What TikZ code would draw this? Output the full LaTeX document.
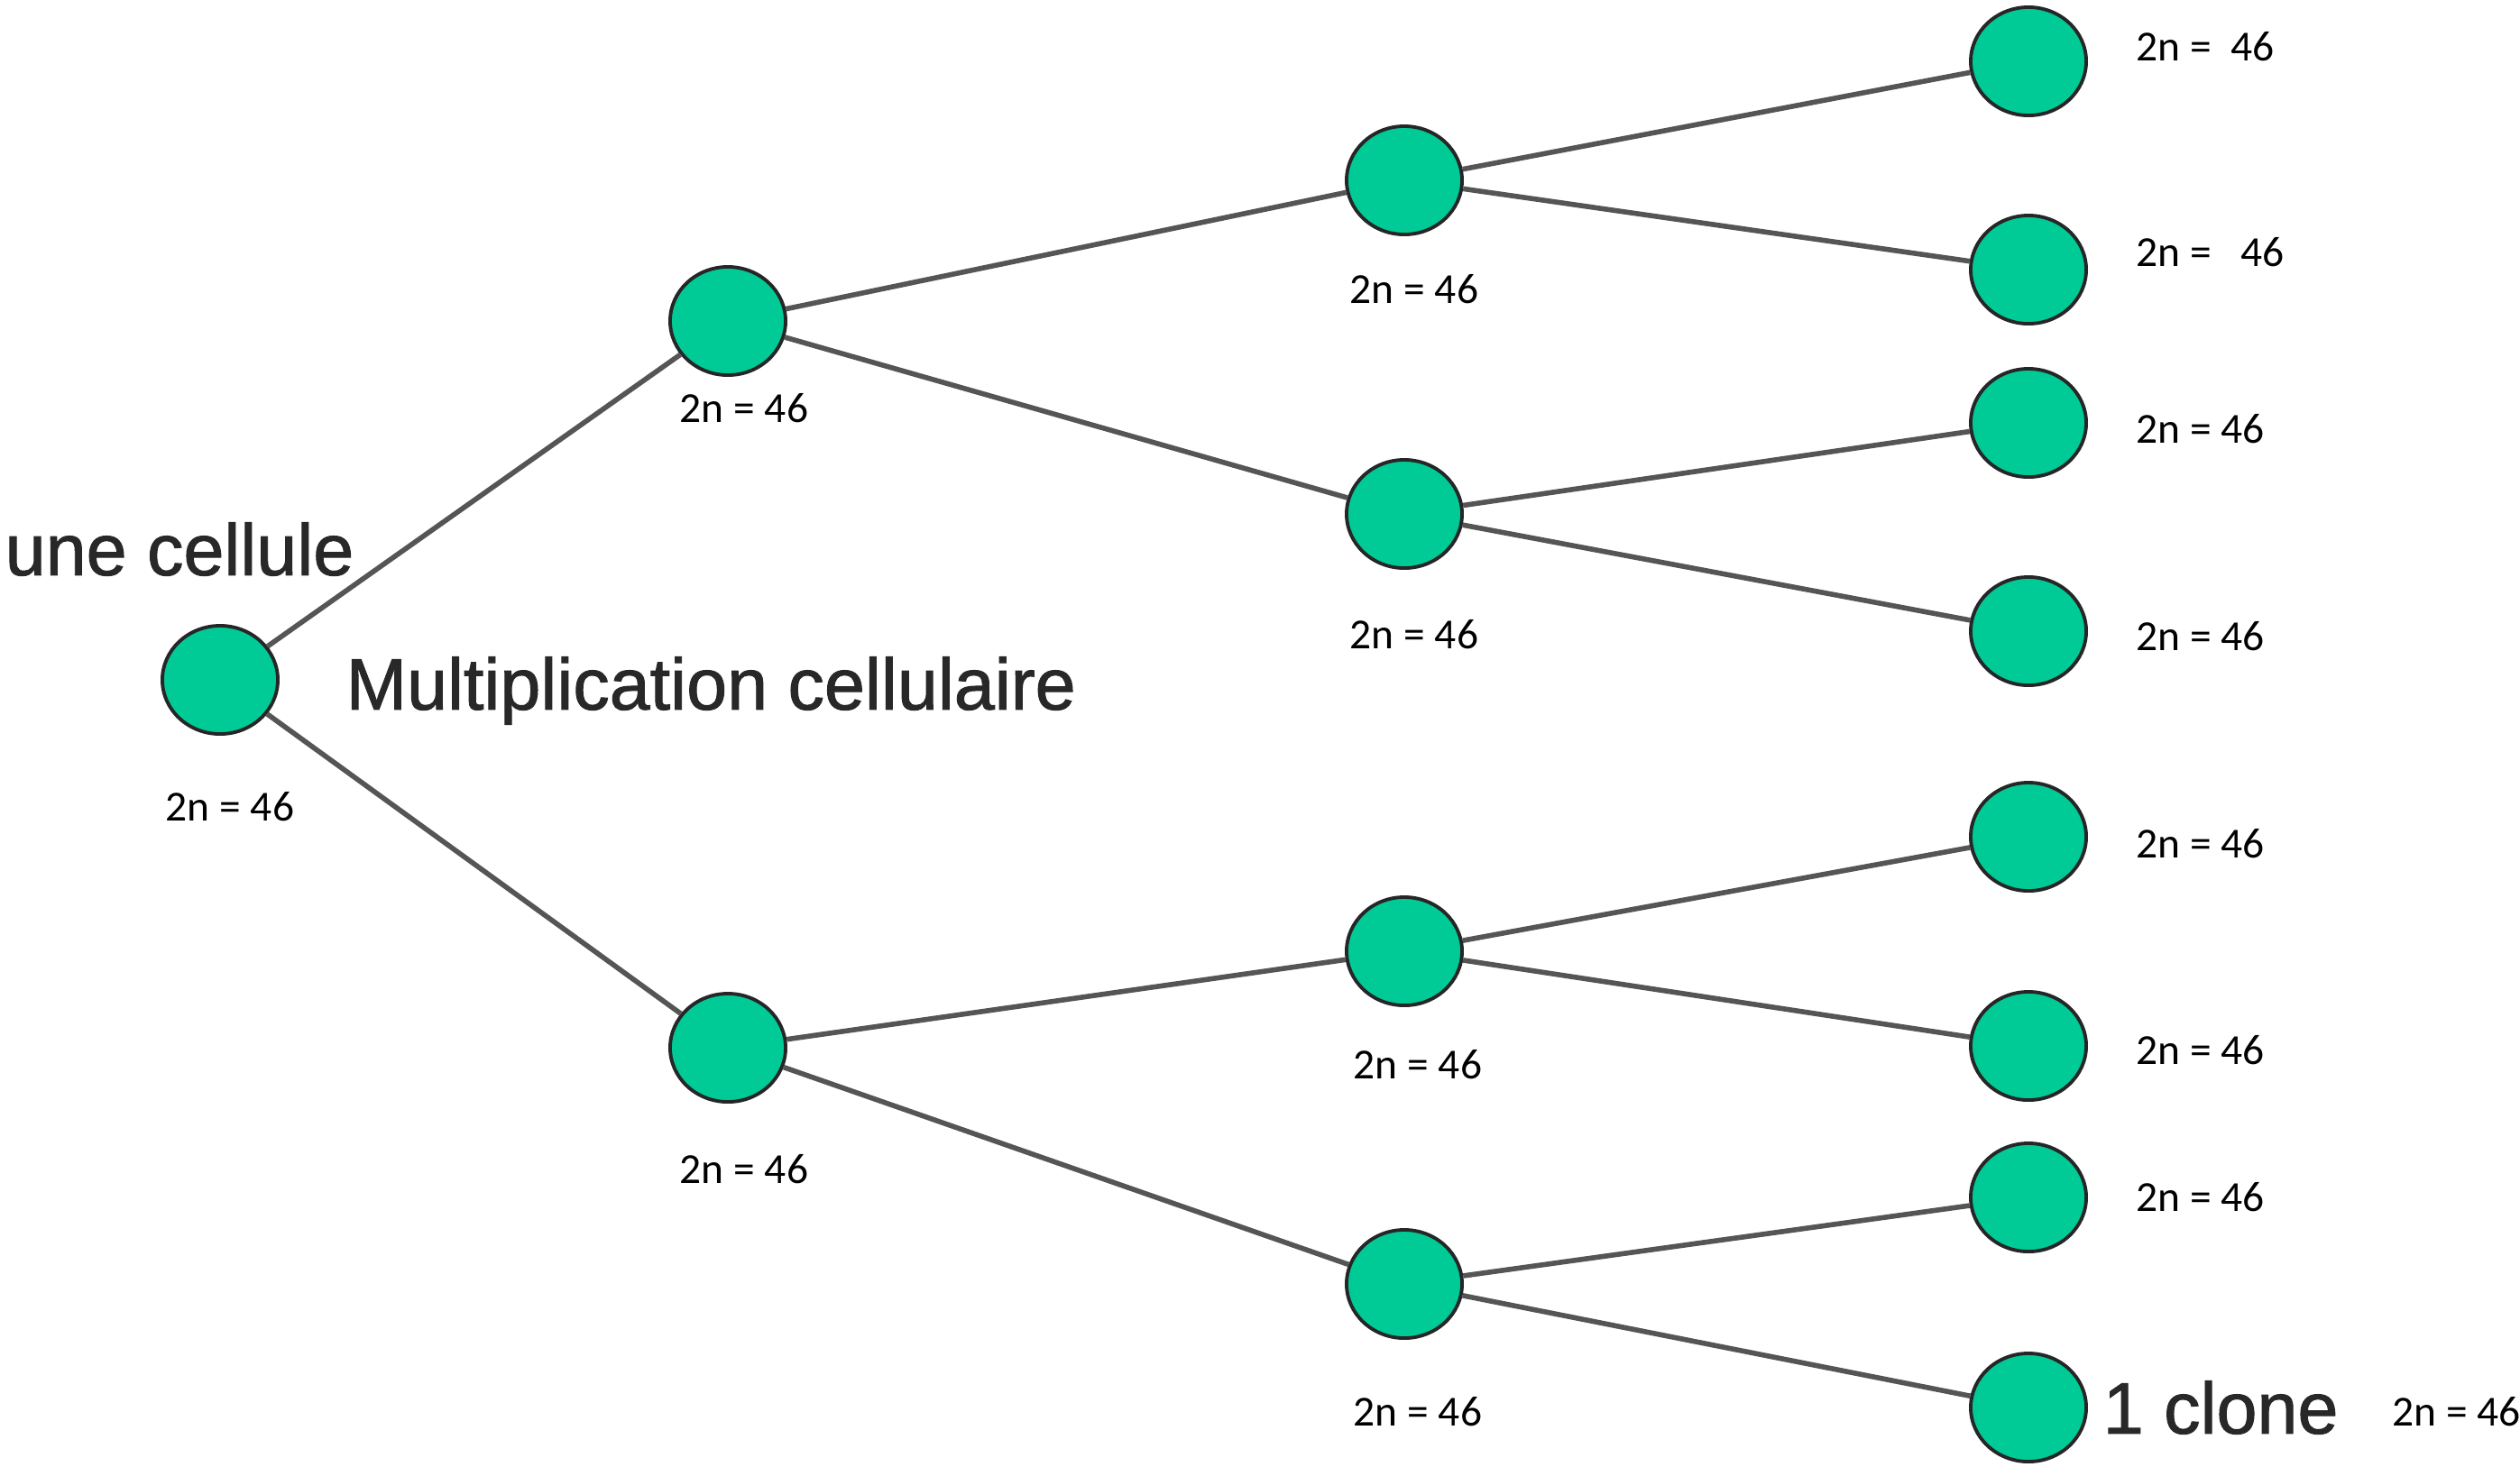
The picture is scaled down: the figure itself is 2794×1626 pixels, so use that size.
\documentclass[tikz,border=0pt]{standalone}
\usepackage{fontspec}
\usetikzlibrary{shapes.geometric}
\setmainfont{Carlito}
\newfontfamily\arialf[FakeBold=1.2]{Liberation Sans}
\definecolor{cellgreen}{RGB}{0,202,150}
\definecolor{linegray}{RGB}{85,85,85}
\definecolor{bigtext}{RGB}{40,40,40}
\begin{document}
\begin{tikzpicture}[x=0.01cm,y=-0.01cm,
  cell/.style={ellipse,draw=black!85,line width=1.1pt,fill=cellgreen,minimum width=1.28cm,minimum height=1.2cm,inner sep=0pt},
  link/.style={draw=linegray,line width=1.6pt},
  chrom/.style={font=\fontsize{13.5}{16}\selectfont,inner sep=0pt,text=black},
  big/.style={font=\arialf\fontsize{23}{26}\selectfont,inner sep=0pt,text=bigtext,anchor=west}]
\useasboundingbox (0,0) rectangle (2794,1626);
% nodes
\node[cell] (r) at (244,754) {};
\node[cell] (a) at (807,356) {};
\node[cell] (b) at (807,1162) {};
\node[cell] (a1) at (1557,200) {};
\node[cell] (a2) at (1557,570) {};
\node[cell] (b1) at (1557,1055) {};
\node[cell] (b2) at (1557,1424) {};
\node[cell] (c1) at (2249,68) {};
\node[cell] (c2) at (2249,299) {};
\node[cell] (c3) at (2249,469) {};
\node[cell] (c4) at (2249,700) {};
\node[cell] (c5) at (2249,928) {};
\node[cell] (c6) at (2249,1160) {};
\node[cell] (c7) at (2249,1328) {};
\node[cell] (c8) at (2249,1561) {};
% links
\draw[link] (r) -- (a);
\draw[link] (r) -- (b);
\draw[link] (a) -- (a1);
\draw[link] (a) -- (a2);
\draw[link] (b) -- (b1);
\draw[link] (b) -- (b2);
\draw[link] (a1) -- (c1);
\draw[link] (a1) -- (c2);
\draw[link] (a2) -- (c3);
\draw[link] (a2) -- (c4);
\draw[link] (b1) -- (c5);
\draw[link] (b1) -- (c6);
\draw[link] (b2) -- (c7);
\draw[link] (b2) -- (c8);
% labels
\node[chrom] (lr) at (255,895) {2n = 46};
\node[chrom] (la) at (825,453) {2n = 46};
\node[chrom] (lb) at (825,1297) {2n = 46};
\node[chrom] (la1) at (1568,321) {2n = 46};
\node[chrom] (la2) at (1568,704) {2n = 46};
\node[chrom] (lb1) at (1572,1181) {2n = 46};
\node[chrom] (lb2) at (1572,1566) {2n = 46};
\node[chrom,anchor=west] (lc1) at (2368,52) {2n =\ \ 46};
\node[chrom,anchor=west] (lc2) at (2368,280) {2n =\ \ \ 46};
\node[chrom,anchor=west] (lc3) at (2368,476) {2n = 46};
\node[chrom,anchor=west] (lc4) at (2368,706) {2n = 46};
\node[chrom,anchor=west] (lc5) at (2368,936) {2n = 46};
\node[chrom,anchor=west] (lc6) at (2368,1165) {2n = 46};
\node[chrom,anchor=west] (lc7) at (2368,1328) {2n = 46};
\node[chrom,anchor=west] (lc8) at (2652,1566) {2n = 46};
\node[big] (t1) at (5,609) {une cellule};
\node[big] (t2) at (383,766) {Multiplication cellulaire};
\node[big] (t3) at (2331,1561) {1 clone};
\end{tikzpicture}
\end{document}
